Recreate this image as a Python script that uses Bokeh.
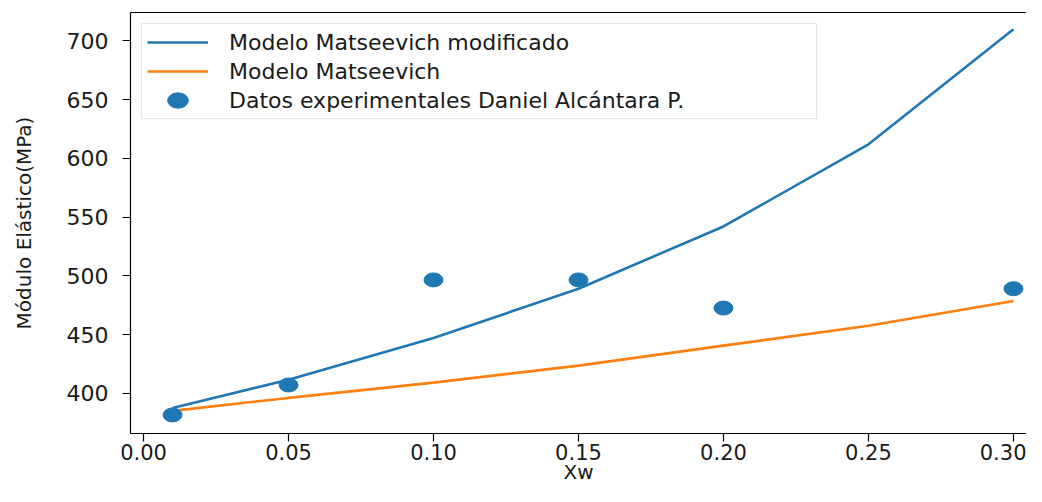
from bokeh.plotting import figure
from bokeh.models import Range1d, FixedTicker, NumeralTickFormatter, LinearAxis, ColumnDataSource
from bokeh.embed import file_html
from bokeh.resources import INLINE

# ---- data ----
xw_model = [0.01, 0.05, 0.10, 0.15, 0.20, 0.25, 0.30]
e_modified = [387.5, 411.5, 447.0, 489.0, 542.0, 612.0, 710.0]
e_matseevich = [385.0, 396.0, 409.0, 423.5, 440.5, 457.5, 478.5]
xw_exp = [0.01, 0.05, 0.10, 0.15, 0.20, 0.30]
e_exp = [381.5, 407.0, 496.5, 496.5, 472.5, 489.0]

x_ticks = [0.00, 0.05, 0.10, 0.15, 0.20, 0.25, 0.30]
y_ticks = [400, 450, 500, 550, 600, 650, 700]

label_modified = "Modelo Matseevich modificado"
label_matseevich = "Modelo Matseevich"
label_exp = "Datos experimentales Daniel Alcántara P."
x_label = "Xw"
y_label = "Módulo Elástico(MPa)"

BLUE = "#1f77b4"
ORANGE = "#ff7f0e"
FONT = "DejaVu Sans"
TXT = "#1a1a1a"

p = figure(width=1026, height=486,
           x_range=Range1d(-0.0045, 0.3045), y_range=Range1d(365.7, 724.2),
           output_backend="svg", toolbar_location=None,
           min_border_left=130, min_border_right=0, min_border_top=12, min_border_bottom=40)
p.xgrid.visible = False
p.ygrid.visible = False
p.outline_line_color = None
p.background_fill_color = "white"
p.border_fill_color = "white"

src_model = ColumnDataSource(dict(x=xw_model, mod=e_modified, mat=e_matseevich))
src_exp = ColumnDataSource(dict(x=xw_exp, y=e_exp))

p.line("x", "mod", source=src_model, line_color=BLUE, line_width=2.6, legend_label=label_modified)
p.line("x", "mat", source=src_model, line_color=ORANGE, line_width=2.6, legend_label=label_matseevich)
p.ellipse("x", "y", source=src_exp, width=19, height=14, width_units="screen", height_units="screen",
          fill_color=BLUE, line_color=BLUE, legend_label=label_exp)

# axes
xa = p.xaxis[0]
xa.ticker = FixedTicker(ticks=x_ticks)
xa.formatter = NumeralTickFormatter(format="0.00")
xa.axis_label = x_label
ya = p.yaxis[0]
ya.ticker = FixedTicker(ticks=y_ticks)
ya.formatter = NumeralTickFormatter(format="0")
ya.axis_label = y_label

for ax in (xa, ya):
    ax.axis_line_color = "black"
    ax.axis_line_width = 1.2
    ax.major_tick_line_color = "black"
    ax.major_tick_line_width = 1.2
    ax.major_tick_in = 0
    ax.major_tick_out = 8
    ax.minor_tick_line_color = None
    ax.major_label_text_font = FONT
    ax.major_label_text_font_size = "22px"
    ax.major_label_text_color = TXT
    ax.axis_label_text_font = FONT
    ax.axis_label_text_font_size = "20px"
    ax.axis_label_text_font_style = "normal"
    ax.axis_label_text_color = TXT

xa.major_label_text_font_size = "21px"
xa.major_label_standoff = 2
xa.axis_label_standoff = -3
ya.major_label_standoff = 14
ya.axis_label_standoff = 28

# top spine
top = LinearAxis(ticker=FixedTicker(ticks=[]), major_label_text_font_size="0px",
                 major_tick_out=0, major_tick_in=0, minor_tick_out=0, minor_tick_in=0,
                 major_label_standoff=0, axis_line_color="black", axis_line_width=1.2)
p.add_layout(top, "above")

# legend
lg = p.legend[0]
lg.location = "top_left"
lg.margin = 11
lg.padding = 5
lg.spacing = 3
lg.glyph_width = 61
lg.glyph_height = 26
lg.label_height = 26
lg.label_standoff = 21
lg.label_width = 582
lg.label_text_font = FONT
lg.label_text_font_size = "22px"
lg.label_text_color = TXT
lg.border_line_color = "#cccccc"
lg.border_line_width = 1
lg.background_fill_color = "white"
lg.background_fill_alpha = 0.8

open("out.html", "w").write(file_html(p, INLINE))
